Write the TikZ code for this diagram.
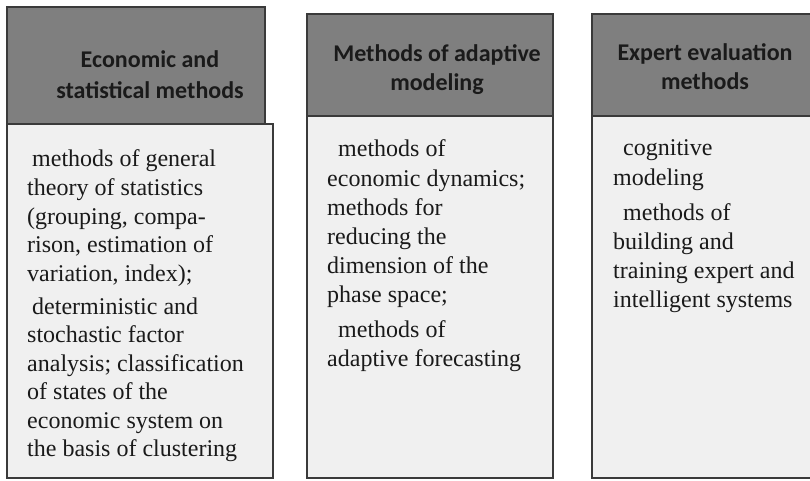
\documentclass[tikz,border=0pt]{standalone}
\usepackage{fontspec}
\setmainfont{Liberation Serif}
\newfontfamily\headfont{Carlito}
\definecolor{headgray}{HTML}{7F7F7F}
\definecolor{bodygray}{HTML}{F0F0F0}
\definecolor{edgegray}{HTML}{3A3A3A}
\definecolor{inkcol}{HTML}{1A1A1A}
\tikzset{
  headbox/.style={fill=headgray, draw=edgegray, line width=2pt},
  bodybox/.style={fill=bodygray, draw=edgegray, line width=2pt},
  headtext/.style={inner sep=0pt, anchor=base, text=inkcol, font=\headfont\bfseries\fontsize{24}{28}\selectfont},
  bodytext/.style={inner sep=0pt, anchor=base west, text=inkcol, font=\fontsize{24}{28}\selectfont},
}
\newcommand\bline[4]{\node[bodytext] (#1) at (#2,#3) {#4};}
\begin{document}
\begin{tikzpicture}[x=1pt,y=-1pt]
\useasboundingbox (0,0) rectangle (810,481);
\clip (0,0) rectangle (810,481);
\fill[white] (0,0) rectangle (810,481);
% column 1
\path[bodybox] (7,124) rectangle (273,478);
\draw[gray!12, line width=1.5pt] (9,141) -- (265,141);
\path[headbox] (7,7) rectangle (265,124);
\node[headtext] (h1a) at (150,68) {Economic and};
\node[headtext] (h1b) at (150,99) {statistical methods};
\bline{a1}{32}{167}{methods of general}
\bline{a2}{27}{195.5}{theory of statistics}
\bline{a3}{27}{224}{(grouping, compa-}
\bline{a4}{27}{252.5}{rison, estimation of}
\bline{a5}{27}{281}{variation, index);}
\bline{a6}{32}{314}{deterministic and}
\bline{a7}{27}{342.5}{stochastic factor}
\bline{a8}{27}{371}{analysis; classification}
\bline{a9}{27}{399.5}{of states of the}
\bline{a10}{27}{428}{economic system on}
\bline{a11}{27}{456.5}{the basis of clustering}
% column 2
\path[bodybox] (307,116) rectangle (553,478);
\path[headbox] (307,14) rectangle (553,116);
\node[headtext] (h2a) at (437,62) {Methods of adaptive};
\node[headtext] (h2b) at (437,91) {modeling};
\bline{b1}{338}{157}{methods of}
\bline{b2}{327}{186}{economic dynamics;}
\bline{b3}{327}{215}{methods for}
\bline{b4}{327}{244}{reducing the}
\bline{b5}{327}{273}{dimension of the}
\bline{b6}{327}{302}{phase space;}
\bline{b7}{338}{337}{methods of}
\bline{b8}{327}{366}{adaptive forecasting}
% column 3
\path[bodybox] (592,116) rectangle (818,478);
\path[headbox] (592,14) rectangle (818,116);
\node[headtext] (h3a) at (705,61) {Expert evaluation};
\node[headtext] (h3b) at (705,90) {methods};
\bline{c1}{623}{156}{cognitive}
\bline{c2}{613}{185}{modeling}
\bline{c3}{623}{220}{methods of}
\bline{c4}{613}{249}{building and}
\bline{c5}{613}{278}{training expert and}
\bline{c6}{613}{307}{intelligent systems}
\end{tikzpicture}
\end{document}
